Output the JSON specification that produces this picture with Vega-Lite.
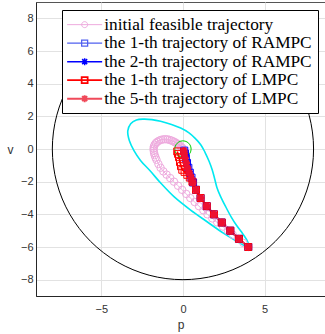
{
  "$schema": "https://vega.github.io/schema/vega-lite/v6.json",
  "width": 289,
  "height": 294,
  "autosize": {"type": "none"},
  "padding": {"left": 36, "top": 2, "right": 0, "bottom": 38},
  "background": "white",
  "config": {
    "view": {"stroke": "#555555", "strokeWidth": 1},
    "axis": {
      "grid": true, "gridColor": "#e2e2e2", "gridWidth": 1, "ticks": false,
      "domainColor": "#262626", "domainWidth": 1,
      "labelFont": "Liberation Sans", "labelFontSize": 11, "labelColor": "#333333",
      "titleFont": "Liberation Sans", "titleFontSize": 12, "titleFontWeight": "normal", "titleColor": "#333333"
    },
    "legend": {"labelFont": "Liberation Serif, DejaVu Serif, serif"}
  },
  "datasets": {
    "circ": [
      {"i": 0, "p": 8, "v": 0}, {"i": 1, "p": 7.727, "v": 2.071}, {"i": 2, "p": 6.928, "v": 4}, {"i": 3, "p": 5.657, "v": 5.657},
      {"i": 4, "p": 4, "v": 6.928}, {"i": 5, "p": 2.071, "v": 7.727}, {"i": 6, "p": 0, "v": 8}, {"i": 7, "p": -2.071, "v": 7.727},
      {"i": 8, "p": -4, "v": 6.928}, {"i": 9, "p": -5.657, "v": 5.657}, {"i": 10, "p": -6.928, "v": 4}, {"i": 11, "p": -7.727, "v": 2.071},
      {"i": 12, "p": -8, "v": 0}, {"i": 13, "p": -7.727, "v": -2.071}, {"i": 14, "p": -6.928, "v": -4}, {"i": 15, "p": -5.657, "v": -5.657},
      {"i": 16, "p": -4, "v": -6.928}, {"i": 17, "p": -2.071, "v": -7.727}, {"i": 18, "p": 0, "v": -8}, {"i": 19, "p": 2.071, "v": -7.727},
      {"i": 20, "p": 4, "v": -6.928}, {"i": 21, "p": 5.657, "v": -5.657}, {"i": 22, "p": 6.928, "v": -4}, {"i": 23, "p": 7.727, "v": -2.071}
    ],
    "green": [
      {"i": 0, "p": 0.5, "v": 0}, {"i": 1, "p": 0.433, "v": 0.25}, {"i": 2, "p": 0.25, "v": 0.433}, {"i": 3, "p": 0, "v": 0.5},
      {"i": 4, "p": -0.25, "v": 0.433}, {"i": 5, "p": -0.433, "v": 0.25}, {"i": 6, "p": -0.5, "v": 0}, {"i": 7, "p": -0.433, "v": -0.25},
      {"i": 8, "p": -0.25, "v": -0.433}, {"i": 9, "p": 0, "v": -0.5}, {"i": 10, "p": 0.25, "v": -0.433}, {"i": 11, "p": 0.433, "v": -0.25}
    ],
    "cyan": [
      {"i": 1, "p": 4.0, "v": -6.05}, {"i": 2, "p": 3.4, "v": -5.72}, {"i": 3, "p": 2.5, "v": -5.17}, {"i": 4, "p": 1.5, "v": -4.47},
      {"i": 5, "p": 0.47, "v": -3.74}, {"i": 6, "p": -0.55, "v": -2.92}, {"i": 7, "p": -1.35, "v": -2.1}, {"i": 8, "p": -2.0, "v": -1.35},
      {"i": 9, "p": -2.6, "v": -0.7}, {"i": 10, "p": -3.0, "v": -0.1}, {"i": 11, "p": -3.28, "v": 0.5}, {"i": 12, "p": -3.38, "v": 1.1},
      {"i": 13, "p": -3.2, "v": 1.55}, {"i": 14, "p": -2.85, "v": 1.78}, {"i": 15, "p": -2.4, "v": 1.83}, {"i": 16, "p": -1.9, "v": 1.8},
      {"i": 17, "p": -1.37, "v": 1.7}, {"i": 18, "p": -0.7, "v": 1.5}, {"i": 19, "p": -0.14, "v": 1.28}, {"i": 20, "p": 0.35, "v": 1.0},
      {"i": 21, "p": 0.75, "v": 0.65}, {"i": 22, "p": 1.1, "v": 0.25}, {"i": 23, "p": 1.35, "v": -0.2}, {"i": 24, "p": 1.6, "v": -0.75},
      {"i": 25, "p": 1.8, "v": -1.3}, {"i": 26, "p": 1.95, "v": -1.85}, {"i": 27, "p": 2.08, "v": -2.35}, {"i": 28, "p": 2.3, "v": -2.9},
      {"i": 29, "p": 2.6, "v": -3.5}, {"i": 30, "p": 2.95, "v": -4.15}, {"i": 31, "p": 3.3, "v": -4.7}, {"i": 32, "p": 3.6, "v": -5.1},
      {"i": 33, "p": 3.9, "v": -5.55}, {"i": 34, "p": 4.05, "v": -5.9}, {"i": 35, "p": 4.0, "v": -6.05}
    ],
    "traj": [
      {"s": "initial feasible trajectory", "i": 0, "p": 4.0, "v": -6.0},
      {"s": "initial feasible trajectory", "i": 1, "p": 3.7, "v": -5.75},
      {"s": "initial feasible trajectory", "i": 2, "p": 3.4, "v": -5.5},
      {"s": "initial feasible trajectory", "i": 3, "p": 3.05, "v": -5.25},
      {"s": "initial feasible trajectory", "i": 4, "p": 2.75, "v": -5.0},
      {"s": "initial feasible trajectory", "i": 5, "p": 2.45, "v": -4.75},
      {"s": "initial feasible trajectory", "i": 6, "p": 2.1, "v": -4.5},
      {"s": "initial feasible trajectory", "i": 7, "p": 1.8, "v": -4.25},
      {"s": "initial feasible trajectory", "i": 8, "p": 1.5, "v": -4.0},
      {"s": "initial feasible trajectory", "i": 9, "p": 1.25, "v": -3.75},
      {"s": "initial feasible trajectory", "i": 10, "p": 0.98, "v": -3.5},
      {"s": "initial feasible trajectory", "i": 11, "p": 0.72, "v": -3.25},
      {"s": "initial feasible trajectory", "i": 12, "p": 0.45, "v": -3.0},
      {"s": "initial feasible trajectory", "i": 13, "p": 0.2, "v": -2.75},
      {"s": "initial feasible trajectory", "i": 14, "p": -0.05, "v": -2.5},
      {"s": "initial feasible trajectory", "i": 15, "p": -0.3, "v": -2.25},
      {"s": "initial feasible trajectory", "i": 16, "p": -0.55, "v": -2.0},
      {"s": "initial feasible trajectory", "i": 17, "p": -0.78, "v": -1.78},
      {"s": "initial feasible trajectory", "i": 18, "p": -1.0, "v": -1.57},
      {"s": "initial feasible trajectory", "i": 19, "p": -1.2, "v": -1.37},
      {"s": "initial feasible trajectory", "i": 20, "p": -1.37, "v": -1.15},
      {"s": "initial feasible trajectory", "i": 21, "p": -1.5, "v": -0.92},
      {"s": "initial feasible trajectory", "i": 22, "p": -1.62, "v": -0.66},
      {"s": "initial feasible trajectory", "i": 23, "p": -1.68, "v": -0.52},
      {"s": "initial feasible trajectory", "i": 24, "p": -1.73, "v": -0.38},
      {"s": "initial feasible trajectory", "i": 25, "p": -1.77, "v": -0.24},
      {"s": "initial feasible trajectory", "i": 26, "p": -1.79, "v": -0.1},
      {"s": "initial feasible trajectory", "i": 27, "p": -1.8, "v": 0.03},
      {"s": "initial feasible trajectory", "i": 28, "p": -1.78, "v": 0.15},
      {"s": "initial feasible trajectory", "i": 29, "p": -1.73, "v": 0.26},
      {"s": "initial feasible trajectory", "i": 30, "p": -1.66, "v": 0.36},
      {"s": "initial feasible trajectory", "i": 31, "p": -1.57, "v": 0.44},
      {"s": "initial feasible trajectory", "i": 32, "p": -1.46, "v": 0.51},
      {"s": "initial feasible trajectory", "i": 33, "p": -1.34, "v": 0.56},
      {"s": "initial feasible trajectory", "i": 34, "p": -1.21, "v": 0.59},
      {"s": "initial feasible trajectory", "i": 35, "p": -1.08, "v": 0.6},
      {"s": "initial feasible trajectory", "i": 36, "p": -0.95, "v": 0.59},
      {"s": "initial feasible trajectory", "i": 37, "p": -0.83, "v": 0.56},
      {"s": "initial feasible trajectory", "i": 38, "p": -0.71, "v": 0.52},
      {"s": "initial feasible trajectory", "i": 39, "p": -0.6, "v": 0.47},
      {"s": "initial feasible trajectory", "i": 40, "p": -0.5, "v": 0.42},
      {"s": "initial feasible trajectory", "i": 41, "p": -0.4, "v": 0.36},
      {"s": "initial feasible trajectory", "i": 42, "p": -0.31, "v": 0.3},
      {"s": "initial feasible trajectory", "i": 43, "p": -0.22, "v": 0.23},
      {"s": "initial feasible trajectory", "i": 44, "p": -0.14, "v": 0.16},
      {"s": "initial feasible trajectory", "i": 45, "p": -0.07, "v": 0.09},
      {"s": "initial feasible trajectory", "i": 46, "p": -0.02, "v": 0.03},
      {"s": "the 1-th trajectory of RAMPC", "i": 0, "p": 4.0, "v": -6.0},
      {"s": "the 1-th trajectory of RAMPC", "i": 1, "p": 3.43, "v": -5.5},
      {"s": "the 1-th trajectory of RAMPC", "i": 2, "p": 2.9, "v": -5.0},
      {"s": "the 1-th trajectory of RAMPC", "i": 3, "p": 2.38, "v": -4.5},
      {"s": "the 1-th trajectory of RAMPC", "i": 4, "p": 1.9, "v": -4.0},
      {"s": "the 1-th trajectory of RAMPC", "i": 5, "p": 1.46, "v": -3.5},
      {"s": "the 1-th trajectory of RAMPC", "i": 6, "p": 1.08, "v": -3.0},
      {"s": "the 1-th trajectory of RAMPC", "i": 7, "p": 0.8, "v": -2.5},
      {"s": "the 1-th trajectory of RAMPC", "i": 8, "p": 0.62, "v": -2.05},
      {"s": "the 1-th trajectory of RAMPC", "i": 9, "p": 0.52, "v": -1.75},
      {"s": "the 1-th trajectory of RAMPC", "i": 10, "p": 0.42, "v": -1.45},
      {"s": "the 1-th trajectory of RAMPC", "i": 11, "p": 0.33, "v": -1.15},
      {"s": "the 1-th trajectory of RAMPC", "i": 12, "p": 0.25, "v": -0.85},
      {"s": "the 1-th trajectory of RAMPC", "i": 13, "p": 0.18, "v": -0.55},
      {"s": "the 1-th trajectory of RAMPC", "i": 14, "p": 0.12, "v": -0.28},
      {"s": "the 1-th trajectory of RAMPC", "i": 15, "p": 0.08, "v": -0.1},
      {"s": "the 2-th trajectory of RAMPC", "i": 0, "p": 4.0, "v": -6.0},
      {"s": "the 2-th trajectory of RAMPC", "i": 1, "p": 3.43, "v": -5.5},
      {"s": "the 2-th trajectory of RAMPC", "i": 2, "p": 2.9, "v": -5.0},
      {"s": "the 2-th trajectory of RAMPC", "i": 3, "p": 2.38, "v": -4.5},
      {"s": "the 2-th trajectory of RAMPC", "i": 4, "p": 1.9, "v": -4.0},
      {"s": "the 2-th trajectory of RAMPC", "i": 5, "p": 1.46, "v": -3.5},
      {"s": "the 2-th trajectory of RAMPC", "i": 6, "p": 1.08, "v": -3.0},
      {"s": "the 2-th trajectory of RAMPC", "i": 7, "p": 0.8, "v": -2.5},
      {"s": "the 2-th trajectory of RAMPC", "i": 8, "p": 0.6, "v": -2.0},
      {"s": "the 2-th trajectory of RAMPC", "i": 9, "p": 0.5, "v": -1.7},
      {"s": "the 2-th trajectory of RAMPC", "i": 10, "p": 0.4, "v": -1.4},
      {"s": "the 2-th trajectory of RAMPC", "i": 11, "p": 0.3, "v": -1.1},
      {"s": "the 2-th trajectory of RAMPC", "i": 12, "p": 0.22, "v": -0.8},
      {"s": "the 2-th trajectory of RAMPC", "i": 13, "p": 0.15, "v": -0.5},
      {"s": "the 2-th trajectory of RAMPC", "i": 14, "p": 0.1, "v": -0.25},
      {"s": "the 1-th trajectory of LMPC", "i": 0, "p": 4.0, "v": -6.0},
      {"s": "the 1-th trajectory of LMPC", "i": 1, "p": 3.43, "v": -5.5},
      {"s": "the 1-th trajectory of LMPC", "i": 2, "p": 2.9, "v": -5.0},
      {"s": "the 1-th trajectory of LMPC", "i": 3, "p": 2.38, "v": -4.5},
      {"s": "the 1-th trajectory of LMPC", "i": 4, "p": 1.9, "v": -4.0},
      {"s": "the 1-th trajectory of LMPC", "i": 5, "p": 1.46, "v": -3.5},
      {"s": "the 1-th trajectory of LMPC", "i": 6, "p": 1.08, "v": -3.0},
      {"s": "the 1-th trajectory of LMPC", "i": 7, "p": 0.8, "v": -2.5},
      {"s": "the 1-th trajectory of LMPC", "i": 8, "p": 0.58, "v": -2.0},
      {"s": "the 1-th trajectory of LMPC", "i": 9, "p": 0.42, "v": -1.75},
      {"s": "the 1-th trajectory of LMPC", "i": 10, "p": 0.27, "v": -1.58},
      {"s": "the 1-th trajectory of LMPC", "i": 11, "p": 0.1, "v": -1.4},
      {"s": "the 1-th trajectory of LMPC", "i": 12, "p": -0.04, "v": -1.27},
      {"s": "the 1-th trajectory of LMPC", "i": 13, "p": -0.12, "v": -1.05},
      {"s": "the 1-th trajectory of LMPC", "i": 14, "p": -0.18, "v": -0.8},
      {"s": "the 1-th trajectory of LMPC", "i": 15, "p": -0.24, "v": -0.5},
      {"s": "the 1-th trajectory of LMPC", "i": 16, "p": -0.3, "v": -0.3},
      {"s": "the 1-th trajectory of LMPC", "i": 17, "p": -0.35, "v": -0.15},
      {"s": "the 5-th trajectory of LMPC", "i": 0, "p": 4.0, "v": -6.0},
      {"s": "the 5-th trajectory of LMPC", "i": 1, "p": 3.43, "v": -5.5},
      {"s": "the 5-th trajectory of LMPC", "i": 2, "p": 2.9, "v": -5.0},
      {"s": "the 5-th trajectory of LMPC", "i": 3, "p": 2.38, "v": -4.5},
      {"s": "the 5-th trajectory of LMPC", "i": 4, "p": 1.9, "v": -4.0},
      {"s": "the 5-th trajectory of LMPC", "i": 5, "p": 1.46, "v": -3.5},
      {"s": "the 5-th trajectory of LMPC", "i": 6, "p": 1.08, "v": -3.0},
      {"s": "the 5-th trajectory of LMPC", "i": 7, "p": 0.8, "v": -2.5},
      {"s": "the 5-th trajectory of LMPC", "i": 8, "p": 0.6, "v": -2.05},
      {"s": "the 5-th trajectory of LMPC", "i": 9, "p": 0.48, "v": -1.75},
      {"s": "the 5-th trajectory of LMPC", "i": 10, "p": 0.38, "v": -1.45},
      {"s": "the 5-th trajectory of LMPC", "i": 11, "p": 0.28, "v": -1.15},
      {"s": "the 5-th trajectory of LMPC", "i": 12, "p": 0.2, "v": -0.85},
      {"s": "the 5-th trajectory of LMPC", "i": 13, "p": 0.13, "v": -0.55},
      {"s": "the 5-th trajectory of LMPC", "i": 14, "p": 0.08, "v": -0.28},
      {"s": "the 5-th trajectory of LMPC", "i": 15, "p": 0.05, "v": -0.1}
    ]
  },
  "encoding": {
    "x": {
      "field": "p", "type": "quantitative",
      "scale": {"domain": [-9, 8.7], "nice": false, "zero": false},
      "axis": {"values": [-5, 0, 5], "title": "p", "labelPadding": 7, "titlePadding": 5}
    },
    "y": {
      "field": "v", "type": "quantitative",
      "scale": {"domain": [-9, 9], "nice": false, "zero": false},
      "axis": {
        "values": [-8, -6, -4, -2, 0, 2, 4, 6, 8], "title": "v", "labelPadding": 3,
        "titleAngle": 0, "titleX": -26, "titleY": 147, "titleAlign": "center", "titleBaseline": "middle"
      }
    }
  },
  "layer": [
    {
      "data": {"name": "circ"},
      "mark": {"type": "line", "interpolate": "cardinal-closed", "color": "#000000", "strokeWidth": 1, "clip": true},
      "encoding": {"order": {"field": "i", "type": "quantitative"}}
    },
    {
      "data": {"name": "cyan"},
      "mark": {"type": "line", "interpolate": "catmull-rom", "color": "#00e8f0", "strokeWidth": 1.6, "clip": true},
      "encoding": {"order": {"field": "i", "type": "quantitative"}}
    },
    {
      "data": {"name": "traj"},
      "mark": {"type": "line", "clip": true},
      "encoding": {
        "order": {"field": "i", "type": "quantitative"},
        "color": {
          "field": "s", "type": "nominal",
          "scale": {
            "domain": ["initial feasible trajectory", "the 1-th trajectory of RAMPC", "the 2-th trajectory of RAMPC", "the 1-th trajectory of LMPC", "the 5-th trajectory of LMPC"],
            "range": ["#eeaade", "#5060f0", "#0000ff", "#ff0000", "#f04a5a"]
          },
          "legend": {
            "title": null, "orient": "none", "legendX": 26, "legendY": 8,
            "padding": 6, "rowPadding": 0.5, "strokeColor": "#000000", "fillColor": "#ffffff",
            "labelFont": "Liberation Serif, DejaVu Serif, serif", "labelFontSize": 17.3, "labelColor": "#000000", "labelLimit": 400,
            "symbolSize": 100, "symbolOffset": 8, "labelOffset": 11, "symbolStrokeWidth": 1,
            "encode": {
              "symbols": {
                "update": {
                  "shape": {"signal": "datum.value === 'initial feasible trajectory' ? 'M-3.5,0H3.5M0.6,0A0.6,0.6 0 1,1 -0.6,0A0.6,0.6 0 1,1 0.6,0' : (datum.value === 'the 1-th trajectory of RAMPC' || datum.value === 'the 1-th trajectory of LMPC') ? 'M-3.5,0H3.5M-0.6,-0.6H0.6V0.6H-0.6Z' : 'M-3.5,0H3.5M0,-0.7V0.7M-0.5,-0.5L0.5,0.5M-0.5,0.5L0.5,-0.5'"},
                  "strokeWidth": {"signal": "(datum.value === 'the 1-th trajectory of RAMPC' || datum.value === 'the 5-th trajectory of LMPC') ? 1.8 : 1"}
                }
              }
            }
          }
        },
        "strokeWidth": {
          "field": "s", "type": "ordinal",
          "scale": {
            "domain": ["initial feasible trajectory", "the 1-th trajectory of RAMPC", "the 2-th trajectory of RAMPC", "the 1-th trajectory of LMPC", "the 5-th trajectory of LMPC"],
            "range": [1, 2, 1, 1, 2]
          },
          "legend": null
        }
      }
    },
    {
      "data": {"name": "traj"},
      "transform": [{"filter": "datum.s === 'initial feasible trajectory'"}],
      "mark": {"type": "point", "shape": "circle", "filled": false, "size": 56, "color": "#eeaade", "strokeWidth": 1, "opacity": 1, "clip": true}
    },
    {
      "data": {"name": "green"},
      "mark": {"type": "line", "interpolate": "cardinal-closed", "color": "#00d000", "strokeWidth": 1, "clip": true},
      "encoding": {"order": {"field": "i", "type": "quantitative"}}
    },
    {
      "data": {"name": "traj"},
      "transform": [{"filter": "datum.s === 'the 1-th trajectory of RAMPC'"}],
      "mark": {"type": "point", "shape": "square", "filled": false, "size": 49, "color": "#0000ff", "strokeWidth": 1, "opacity": 1, "clip": true}
    },
    {
      "data": {"name": "traj"},
      "transform": [{"filter": "datum.s === 'the 2-th trajectory of RAMPC'"}],
      "mark": {"type": "point", "shape": "M-1,0H1M0,-1V1M-0.7,-0.7L0.7,0.7M-0.7,0.7L0.7,-0.7", "filled": false, "size": 49, "color": "#0000ff", "strokeWidth": 1.5, "opacity": 1, "clip": true}
    },
    {
      "data": {"name": "traj"},
      "transform": [{"filter": "datum.s === 'the 1-th trajectory of LMPC'"}],
      "mark": {"type": "point", "shape": "square", "filled": false, "size": 49, "color": "#ff0000", "strokeWidth": 1, "opacity": 1, "clip": true}
    },
    {
      "data": {"name": "traj"},
      "transform": [{"filter": "datum.s === 'the 5-th trajectory of LMPC'"}],
      "mark": {"type": "point", "shape": "M-1,0H1M0,-1V1M-0.7,-0.7L0.7,0.7M-0.7,0.7L0.7,-0.7", "filled": false, "size": 56, "color": "#ee1030", "strokeWidth": 2.2, "opacity": 1, "clip": true}
    }
  ]
}
